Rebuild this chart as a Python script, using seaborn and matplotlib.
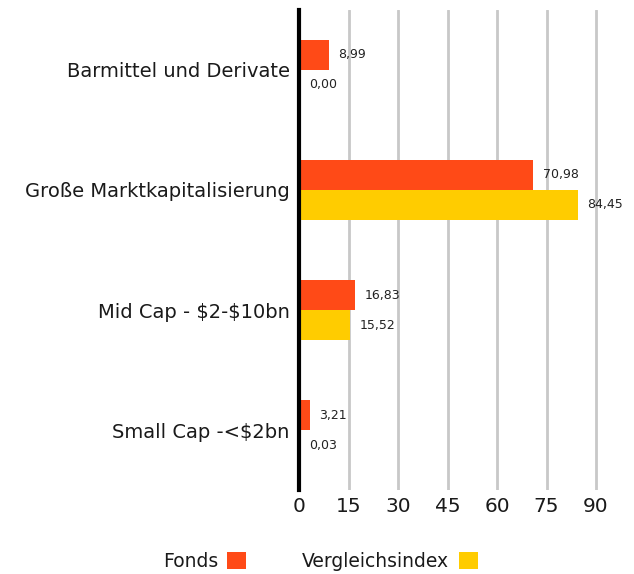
import seaborn as sns
import pandas as pd
import matplotlib.pyplot as plt
import matplotlib
matplotlib.use('Agg')

categories = ["Barmittel und Derivate", "Große Marktkapitalisierung",
              "Mid Cap - \\$2-\\$10bn", "Small Cap -<\\$2bn"]
fonds = [8.99, 70.98, 16.83, 3.21]
vergleich = [0.00, 84.45, 15.52, 0.03]
series = ["Fonds", "Vergleichsindex"]
colors = ["#FF4A17", "#FFCC00"]
x_ticks = [0, 15, 30, 45, 60, 75, 90]

df = pd.DataFrame({
    "Kategorie": categories * 2,
    "Wert": fonds + vergleich,
    "Serie": [series[0]] * 4 + [series[1]] * 4,
})

sns.set_style("white")
plt.rcParams['font.family'] = ['DejaVu Sans']

fig = plt.figure(figsize=(6.34, 5.74), dpi=100)
ax = fig.add_axes([0.472, 0.146, 0.52, 0.837])

sns.barplot(data=df, y="Kategorie", x="Wert", hue="Serie", palette=colors,
            width=0.5, orient="h", ax=ax, saturation=1, linewidth=0,
            legend=True)

# value labels with German decimal comma
for cont in ax.containers:
    ax.bar_label(cont, labels=[f"{b.get_width():.2f}".replace(".", ",") for b in cont],
                 padding=7, fontsize=9, color="#222222")

ax.set_xlim(0, 100)
ax.set_ylim(3.5, -0.5)
ax.set_xticks(x_ticks)
ax.set_xticklabels([str(t) for t in x_ticks], fontsize=14.5)
ax.tick_params(axis="y", labelsize=14, length=0, pad=7, labelcolor="#1a1a1a")
ax.tick_params(axis="x", length=0, pad=5, labelcolor="#1a1a1a")
ax.set_xlabel("")
ax.set_ylabel("")
ax.xaxis.grid(True, color="#C8C8C8", linewidth=2)
ax.set_axisbelow(True)
for s in ["top", "right", "bottom"]:
    ax.spines[s].set_visible(False)
ax.spines["left"].set_color("black")
ax.spines["left"].set_linewidth(3)
ax.spines["left"].set_zorder(5)

ax.legend(loc="center", bbox_to_anchor=(0.505, 0.022), bbox_transform=fig.transFigure,
          ncol=2, frameon=False, markerfirst=False, fontsize=13.5, handlelength=1.0,
          handleheight=1.0, columnspacing=3.0, handletextpad=0.5,
          labelcolor="#1a1a1a")

fig.savefig("out.png", dpi=100)
